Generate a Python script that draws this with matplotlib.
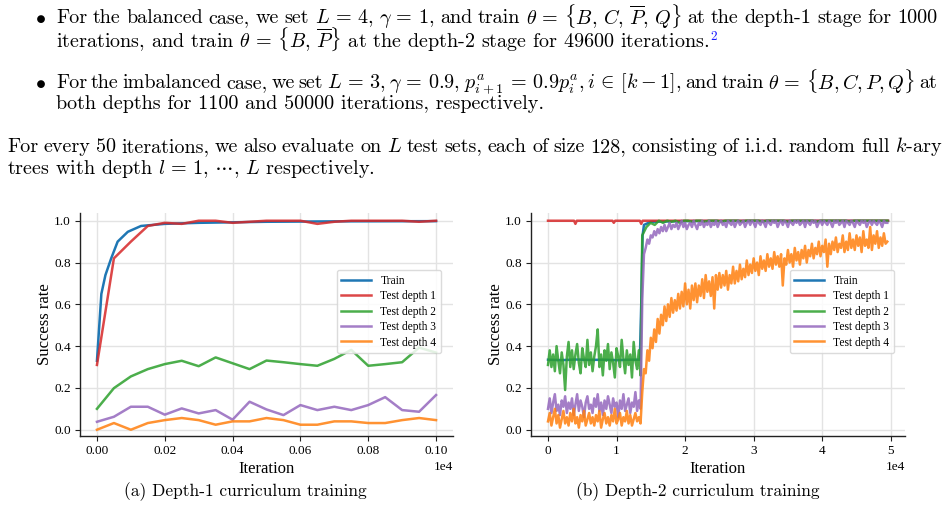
import numpy as np
import matplotlib
matplotlib.use('Agg')
import matplotlib.pyplot as plt

plt.rcParams['font.family'] = ['Liberation Serif', 'DejaVu Serif']
plt.rcParams['mathtext.fontset'] = 'cm'

W, H = 949, 511

# ---------------- data ----------------
labels = ['Train', 'Test depth 1', 'Test depth 2', 'Test depth 3', 'Test depth 4']
colors = ['#1f77b4', '#d62728', '#2ca02c', '#9467bd', '#ff7f0e']

# (a) depth-1 curriculum
a_train_iter = [0, 13, 25, 42, 61, 91, 130, 200, 300, 500, 700, 1000]
a_train = [0.33, 0.65, 0.74, 0.82, 0.90, 0.947, 0.975, 0.985, 0.99, 0.995, 0.997, 0.998]
a_test_iter = [0, 50, 100, 150, 200, 250, 300, 350, 400, 450, 500,
               550, 600, 650, 700, 750, 800, 850, 900, 950, 1000]
a_depth1 = [0.31, 0.82, 0.90, 0.975, 0.99, 0.985, 1.0, 1.0, 0.99, 0.995, 1.0,
            1.0, 1.0, 0.985, 0.995, 1.0, 1.0, 1.0, 1.0, 0.995, 1.0]
a_depth2 = [0.10, 0.199, 0.255, 0.29, 0.314, 0.33, 0.304, 0.346, 0.318, 0.29, 0.331,
            0.323, 0.314, 0.306, 0.339, 0.382, 0.306, 0.314, 0.323, 0.393, 0.369]
a_depth3 = [0.038, 0.062, 0.11, 0.11, 0.072, 0.102, 0.078, 0.094, 0.048, 0.134, 0.097,
            0.07, 0.118, 0.094, 0.11, 0.094, 0.118, 0.156, 0.094, 0.086, 0.166]
a_depth4 = [0.0, 0.032, 0.0, 0.032, 0.046, 0.056, 0.046, 0.024, 0.04, 0.04, 0.056,
            0.046, 0.024, 0.024, 0.04, 0.04, 0.032, 0.032, 0.046, 0.056, 0.046]

# (b) depth-2 curriculum
b_switch_iter = [13500, 13750]          # last eval before / first eval after the jump
b_end_iter = 49500
b_train_iter = [0, 2000, 4000, 6000, 8000, 10000, 12000, 13400, 13600, 13800, 14000,
                15000, 20000, 30000, 40000, 49600]
b_train = [0.335, 0.333, 0.336, 0.334, 0.335, 0.333, 0.335, 0.335, 0.6, 0.93, 0.98,
           0.995, 0.998, 0.999, 0.999, 0.999]
b_depth1_iter = [0, 3800, 4000, 4200, 9400, 9600, 9800, 13400, 13600, 13800, 49600]
b_depth1 = [1.0, 1.0, 0.985, 1.0, 1.0, 0.99, 1.0, 1.0, 0.985, 1.0, 1.0]

b_depth2_p1 = [0.31, 0.38, 0.30, 0.36, 0.28, 0.40, 0.33, 0.27, 0.37, 0.31, 0.19, 0.35,
               0.42, 0.30, 0.38, 0.29, 0.36, 0.41, 0.32, 0.27, 0.39, 0.34, 0.30, 0.43,
               0.31, 0.37, 0.28, 0.35, 0.40, 0.48, 0.30, 0.36, 0.26, 0.38, 0.33, 0.41,
               0.29, 0.37, 0.32, 0.25, 0.39, 0.35, 0.30, 0.43, 0.34, 0.27, 0.38, 0.31,
               0.36, 0.25, 0.42, 0.33, 0.29, 0.38, 0.26]
b_depth2_p2 = [0.93, 0.97, 0.99, 0.98, 1.0, 0.99, 1.0, 0.995, 1.0, 0.99, 1.0, 1.0,
               0.995, 1.0, 1.0, 0.995, 1.0, 1.0, 1.0, 0.995, 1.0, 1.0, 1.0, 1.0,
               0.995, 1.0, 1.0, 1.0, 1.0, 0.995, 1.0, 1.0, 1.0, 1.0, 1.0, 0.995,
               1.0, 1.0, 1.0, 1.0, 1.0, 1.0, 0.995, 1.0, 1.0, 1.0, 1.0, 1.0,
               1.0, 1.0, 0.995, 1.0, 1.0, 1.0, 1.0, 1.0, 1.0, 1.0, 1.0, 1.0]

b_depth3_p1 = [0.10, 0.15, 0.08, 0.13, 0.17, 0.09, 0.12, 0.07, 0.14, 0.11, 0.16, 0.08,
               0.13, 0.10, 0.15, 0.07, 0.12, 0.17, 0.09, 0.14, 0.11, 0.06, 0.13, 0.16,
               0.10, 0.12, 0.08, 0.15, 0.11, 0.17, 0.09, 0.13, 0.07, 0.14, 0.10, 0.16,
               0.12, 0.08, 0.15, 0.11, 0.13, 0.06, 0.14, 0.10, 0.17, 0.09, 0.12, 0.15,
               0.08, 0.13, 0.11, 0.18, 0.09, 0.14, 0.10]
b_depth3_p2 = [0.62, 0.84, 0.87, 0.91, 0.89, 0.93, 0.92, 0.95, 0.93, 0.96, 0.94, 0.97,
               0.95, 0.98, 0.95, 0.97, 0.99, 0.96, 0.98, 0.97, 0.99, 0.96, 0.98, 1.0,
               0.97, 0.99, 0.96, 0.98, 0.99, 0.97, 1.0, 0.98, 0.96, 0.99, 0.98, 1.0,
               0.97, 0.99, 0.98, 1.0, 0.97, 0.99, 0.98, 1.0, 0.97, 0.99, 1.0, 0.98,
               0.99, 0.97, 1.0, 0.99, 0.98, 1.0, 0.97, 0.99, 1.0, 0.98, 0.99, 1.0,
               0.97, 0.99, 1.0, 0.98, 1.0, 0.99, 0.97, 1.0, 0.99, 0.98, 1.0, 0.99,
               0.97, 1.0, 0.99, 0.98, 1.0, 0.99, 1.0, 0.97, 0.99, 1.0, 0.98, 1.0,
               0.99, 0.97, 1.0, 0.99, 0.98, 1.0, 0.99, 1.0, 0.98, 0.99, 1.0, 0.97,
               1.0, 0.99, 0.98, 1.0, 0.99, 1.0, 0.97, 0.99, 1.0, 0.98, 1.0, 0.99,
               0.98, 1.0, 0.99, 0.97, 1.0, 0.99, 1.0, 0.98, 0.99, 1.0, 0.97, 1.0,
               0.99, 0.98, 1.0, 0.99, 0.97, 1.0, 0.99, 0.98, 1.0, 0.99, 1.0, 0.97,
               0.99, 1.0, 0.98, 1.0, 0.99, 0.98, 1.0, 0.99, 0.97, 1.0, 0.99, 0.99]

b_depth4_p1 = [0.04, 0.08, 0.02, 0.06, 0.10, 0.03, 0.07, 0.01, 0.05, 0.09, 0.03, 0.06,
               0.02, 0.08, 0.04, 0.10, 0.03, 0.06, 0.01, 0.07, 0.04, 0.09, 0.02, 0.05,
               0.08, 0.03, 0.06, 0.02, 0.07, 0.04, 0.09, 0.01, 0.05, 0.08, 0.03, 0.06,
               0.02, 0.07, 0.04, 0.10, 0.03, 0.05, 0.08, 0.02, 0.06, 0.04, 0.09, 0.03,
               0.07, 0.02, 0.05, 0.08, 0.04, 0.06, 0.03]
b_depth4_p2 = [0.18, 0.29, 0.27, 0.38, 0.33, 0.44, 0.39, 0.48, 0.42, 0.53, 0.46, 0.55,
               0.50, 0.59, 0.52, 0.60, 0.54, 0.63, 0.56, 0.62, 0.57, 0.65, 0.58, 0.66,
               0.59, 0.70, 0.60, 0.67, 0.58, 0.69, 0.62, 0.70, 0.61, 0.69, 0.64, 0.72,
               0.63, 0.74, 0.66, 0.71, 0.64, 0.73, 0.58, 0.74, 0.67, 0.75, 0.68, 0.74,
               0.69, 0.76, 0.67, 0.74, 0.70, 0.78, 0.70, 0.76, 0.71, 0.79, 0.72, 0.77,
               0.73, 0.81, 0.74, 0.79, 0.75, 0.82, 0.76, 0.80, 0.74, 0.83, 0.77, 0.81,
               0.76, 0.84, 0.78, 0.82, 0.77, 0.85, 0.79, 0.83, 0.78, 0.84, 0.69, 0.82,
               0.79, 0.86, 0.80, 0.84, 0.78, 0.87, 0.81, 0.85, 0.79, 0.86, 0.82, 0.88,
               0.80, 0.86, 0.83, 0.89, 0.82, 0.87, 0.84, 0.90, 0.83, 0.88, 0.85, 0.91,
               0.78, 0.89, 0.84, 0.90, 0.86, 0.92, 0.85, 0.89, 0.87, 0.93, 0.85, 0.90,
               0.86, 0.94, 0.87, 0.91, 0.86, 0.93, 0.88, 0.92, 0.85, 0.95, 0.88, 0.91,
               0.87, 0.97, 0.86, 0.93, 0.89, 0.95, 0.87, 0.92, 0.88, 0.94, 0.89, 0.90]

# ---------------- figure ----------------
fig = plt.figure(figsize=(W / 100, H / 100), dpi=100)


def fx(px):
    return px / W


def fy(py):
    return 1 - py / H


def phase(p1, p2):
    x = np.concatenate([np.linspace(0, b_switch_iter[0], len(p1)),
                        np.linspace(b_switch_iter[1], b_end_iter, len(p2))])
    return x, np.concatenate([p1, p2])


def style(ax):
    for s in ['top', 'right']:
        ax.spines[s].set_visible(False)
    for s in ['left', 'bottom']:
        ax.spines[s].set_color('#222222')
        ax.spines[s].set_linewidth(1.0)
    ax.grid(True, color='#e3e3e3', linewidth=1.0)
    ax.set_axisbelow(True)
    ax.tick_params(direction='out', length=3.5, width=0.8, labelsize=9.5,
                   color='#222222', pad=3)
    ax.ticklabel_format(axis='x', style='sci', scilimits=(4, 4))
    ax.xaxis.get_offset_text().set_fontsize(9.5)
    ax.set_ylim(-0.03, 1.037)
    ax.set_yticks([0.0, 0.2, 0.4, 0.6, 0.8, 1.0])
    ax.set_ylabel('Success rate', fontsize=12, labelpad=1)
    ax.set_xlabel('Iteration', fontsize=12, labelpad=3)


lw = 1.8
ax1 = fig.add_axes([fx(80), fy(436), fx(373), 223 / H])
ax1.plot(a_train_iter, a_train, color=colors[0], lw=lw, label=labels[0])
for vals, c, lab in zip([a_depth1, a_depth2, a_depth3, a_depth4], colors[1:], labels[1:]):
    ax1.plot(a_test_iter, vals, color=c, lw=lw, alpha=0.85, label=lab)
ax1.set_xlim(-50, 1050)
ax1.set_xticks([0, 200, 400, 600, 800, 1000])
style(ax1)

ax2 = fig.add_axes([fx(531), fy(436), fx(374), 223 / H])
ax2.plot(b_train_iter, b_train, color=colors[0], lw=lw, label=labels[0])
ax2.plot(b_depth1_iter, b_depth1, color=colors[1], lw=lw, alpha=0.85, label=labels[1])
for (p1, p2), c, lab in zip([(b_depth2_p1, b_depth2_p2), (b_depth3_p1, b_depth3_p2),
                             (b_depth4_p1, b_depth4_p2)], colors[2:], labels[2:]):
    x, y = phase(p1, p2)
    ax2.plot(x, y, color=c, lw=lw, alpha=0.85, label=lab)
ax2.set_xlim(-2480, 52080)
ax2.set_xticks([0, 10000, 20000, 30000, 40000, 50000])
style(ax2)

for ax, bx in [(ax1, 0.968), (ax2, 0.971)]:
    ax.legend(loc='upper right', bbox_to_anchor=(bx, 0.744), borderaxespad=0,
              fontsize=8.3, handlelength=2.6, labelspacing=0.3, handletextpad=0.8,
              frameon=True, edgecolor='#d5d5d5', framealpha=0.85, fancybox=True)

# captions
fig.text(fx(245), fy(492), '(a) Depth-1 curriculum training', family='cmr10',
         fontsize=12.5, ha='center', va='center')
fig.text(fx(698), fy(492), '(b) Depth-2 curriculum training', family='cmr10',
         fontsize=12.5, ha='center', va='center')

# ---------------- body text ----------------
BODY = 14.5
renderer = fig.canvas.get_renderer()


def split_tokens(s):
    out, cur, inmath = [], '', False
    for ch in s:
        if ch == '$':
            inmath = not inmath
        if ch == ' ' and not inmath:
            if cur:
                out.append(cur)
            cur = ''
        else:
            cur += ch
    if cur:
        out.append(cur)
    return out


def line(s, x0, y, x1=None, size=BODY):
    if x1 is None:
        t = fig.text(fx(x0), fy(y), s, family='cmr10', fontsize=size, va='baseline')
        return x0 + t.get_window_extent(renderer).width
    toks = split_tokens(s)
    ts = [fig.text(0, fy(y), tk, family='cmr10', fontsize=size, va='baseline') for tk in toks]
    ws = [t.get_window_extent(renderer).width for t in ts]
    gap = (x1 - x0 - sum(ws)) / (len(toks) - 1)
    x = x0
    for t, w in zip(ts, ws):
        t.set_x(fx(x))
        x += w + gap
    return x1


fig.text(fx(40.7), fy(23.3), r'$\bullet$', fontsize=BODY, ha='center', va='baseline')
line(r'For the balanced case, we set $L\,=\,4$, $\gamma\,=\,1$, and train '
     r'$\theta\,=\,\{B,\,C,\,\overline{P},\,Q\}$ at the depth-1 stage for 1000',
     56, 23.3, 937)
xe = line(r'iterations, and train $\theta\,=\,\{B,\,\overline{P}\}$ at the depth-2 stage '
          r'for 49600 iterations.', 56, 46.7)
fig.text(fx(xe + 1), fy(39.5), '2', family='cmr10', fontsize=9.5, color='#1a1aff',
         va='baseline')

fig.text(fx(40.7), fy(88.3), r'$\bullet$', fontsize=BODY, ha='center', va='baseline')
line(r'For the imbalanced case, we set $L\,=\,3$, $\gamma\,=\,0.9$, '
     r'$p^a_{i+1}\,=\,0.9p^a_i,i\,\in\,[k-1]$, and train $\theta\,=\,\{B,C,P,Q\}$ at',
     56, 88.3, 937)
line('both depths for 1100 and 50000 iterations, respectively.', 56, 109.3)

line(r'For every 50 iterations, we also evaluate on $L$ test sets, each of size 128, '
     r'consisting of i.i.d. random full $k$-ary', 7, 152.3, 942)
line(r'trees with depth $l\,=\,1,\,\cdots,\,L$ respectively.', 7, 174)

fig.savefig('out.png', dpi=100)
